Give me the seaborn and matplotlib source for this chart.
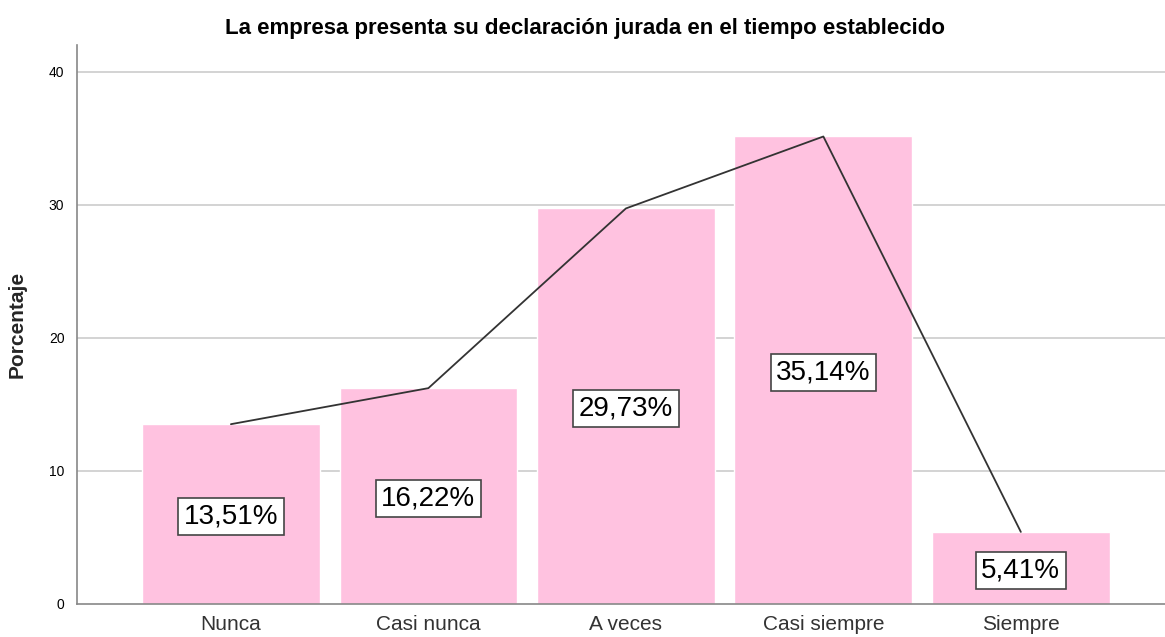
import matplotlib
matplotlib.use("Agg")
import matplotlib.pyplot as plt
import seaborn as sns

sns.set_theme(style="white")
plt.rcParams["font.family"] = ["Liberation Sans", "DejaVu Sans"]

categorias = ["Nunca", "Casi nunca", "A veces", "Casi siempre", "Siempre"]
porcentajes = [13.51, 16.22, 29.73, 35.14, 5.41]
etiquetas = ["13,51%", "16,22%", "29,73%", "35,14%", "5,41%"]
y_ticks = [0, 10, 20, 30, 40]

fig = plt.figure(figsize=(11.65, 6.37), dpi=100)
ax = fig.add_axes([0.066, 0.052, 0.934, 0.878])

for y in y_ticks[1:]:
    ax.axhline(y, color="#cccccc", lw=1.2, zorder=0)

sns.barplot(x=categorias, y=porcentajes, color="#ffc2e0", saturation=1,
            width=0.9, ax=ax, zorder=2)
sns.lineplot(x=categorias, y=porcentajes, sort=False, color="#333333",
             lw=1.3, ax=ax, zorder=3)

for i, (v, t) in enumerate(zip(porcentajes, etiquetas)):
    ax.text(i, v / 2 - 0.2, t, ha="center", va="center", fontsize=20, color="black",
            zorder=4,
            bbox=dict(boxstyle="square,pad=0.2", fc="white", ec="#444444", lw=1.2))

ax.set_xlim(-0.78, 4.73)
ax.set_ylim(0, 42.05)
ax.set_yticks(y_ticks)
ax.tick_params(axis="y", labelsize=10, labelcolor="black", length=0, pad=9)
ax.tick_params(axis="x", labelsize=15, labelcolor="#333333", length=0, pad=8)
ax.set_xlabel("")
ax.set_ylabel("Porcentaje", fontsize=15, fontweight="bold", labelpad=16)

for s in ["top", "right"]:
    ax.spines[s].set_visible(False)
for s in ["left", "bottom"]:
    ax.spines[s].set_color("#888888")
    ax.spines[s].set_linewidth(1.2)

fig.text(0.502, 0.955, "La empresa presenta su declaración jurada en el tiempo establecido",
         ha="center", va="center", fontsize=16, fontweight="bold", color="black")

fig.savefig("out.png", dpi=100)
